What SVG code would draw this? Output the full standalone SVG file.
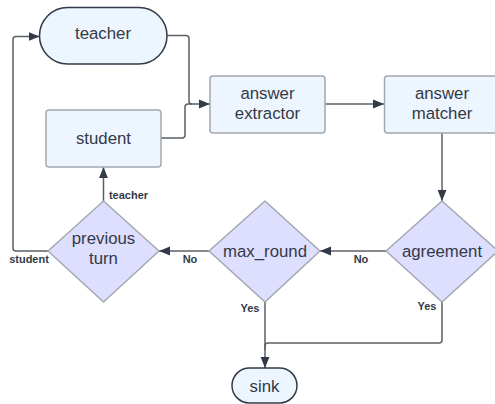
<svg xmlns="http://www.w3.org/2000/svg" width="495" height="404" viewBox="0 0 495 404">
<style>
.box{fill:#edf5ff;stroke:#a3a8b0;stroke-width:1.5}
.pill{fill:#edf5ff;stroke:#333a47;stroke-width:1.5}
.dia{fill:#dedeff;stroke:#a3a8b0;stroke-width:1.5}
.t{font-family:"Liberation Sans",Arial,sans-serif;font-size:16.8px;fill:#333a47;text-anchor:middle}
.lbl{font-family:"Liberation Sans",Arial,sans-serif;font-size:11px;font-weight:bold;fill:#333a47;text-anchor:middle}
.c{fill:none;stroke:#5b5f66;stroke-width:1.5;stroke-linejoin:round}
</style>
<defs>
<marker id="ahb" viewBox="0 0 10 10" refX="10" refY="5" markerWidth="11" markerHeight="11" markerUnits="userSpaceOnUse" orient="auto">
<path d="M0,1 L10,5 L0,9 z" fill="#333a47"/>
</marker>
</defs>
<rect width="495" height="404" fill="#ffffff"/>
<g id="connectors">
<path class="c" d="M167,35.5 H186 Q189,35.5 189,38.5 V101 Q189,104 192,104 H210" marker-end="url(#ahb)"/>
<path class="c" d="M161,138 H182 Q185,138 185,135 V107 Q185,104 188,104 H192"/>
<path class="c" d="M325,104 H384" marker-end="url(#ahb)"/>
<path class="c" d="M442,133 V201" marker-end="url(#ahb)"/>
<path class="c" d="M386,251 H320" marker-end="url(#ahb)"/>
<path class="c" d="M209,251 H159" marker-end="url(#ahb)"/>
<path class="c" d="M103.5,201 V167" marker-end="url(#ahb)"/>
<path class="c" d="M48,251 H16 Q13,251 13,248 V39.5 Q13,36.5 16,36.5 H39.5" marker-end="url(#ahb)"/>
<path class="c" d="M265,302 V368" marker-end="url(#ahb)"/>
<path class="c" d="M442,302 V340 Q442,343 439,343 H268 Q265,343 265,346 V350"/>
<text class="lbl" x="128.5" y="199">teacher</text>
<text class="lbl" x="29" y="263">student</text>
<text class="lbl" x="190" y="263">No</text>
<text class="lbl" x="361" y="263">No</text>
<text class="lbl" x="250" y="312">Yes</text>
<text class="lbl" x="427" y="310">Yes</text>
</g>
<g id="teacher">
<rect class="pill" x="39.5" y="7.5" width="127.5" height="56.5" rx="28.25"/>
<text class="t" x="103" y="39">teacher</text>
</g>
<g id="student">
<rect class="box" x="46" y="110" width="115" height="57" rx="3"/>
<text class="t" x="103.5" y="143.5">student</text>
</g>
<g id="answer_extractor">
<rect class="box" x="210" y="76" width="115" height="57" rx="3"/>
<text class="t" x="267.5" y="99">answer</text>
<text class="t" x="267.5" y="119">extractor</text>
</g>
<g id="answer_matcher">
<rect class="box" x="384.5" y="76" width="115" height="57" rx="3"/>
<text class="t" x="442" y="99">answer</text>
<text class="t" x="442" y="119">matcher</text>
</g>
<g id="agreement">
<path class="dia" d="M442,201 L498,251 L442,302 L386,251 Z" stroke-linejoin="round"/>
<text class="t" x="442" y="257">agreement</text>
</g>
<g id="max_round">
<path class="dia" d="M265,201 L320,251 L265,302 L209,251 Z" stroke-linejoin="round"/>
<text class="t" x="265" y="257">max_round</text>
</g>
<g id="previous_turn">
<path class="dia" d="M103.5,201 L159,251 L103.5,302 L48,251 Z" stroke-linejoin="round"/>
<text class="t" x="103.5" y="244">previous</text>
<text class="t" x="103.5" y="264">turn</text>
</g>
<g id="sink">
<rect class="pill" x="232" y="368" width="65" height="35" rx="17.5"/>
<text class="t" x="264.5" y="392">sink</text>
</g>
</svg>
